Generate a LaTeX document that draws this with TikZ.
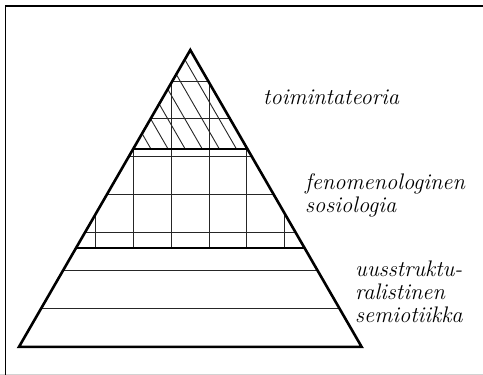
\documentclass[tikz,border=0pt]{standalone}
\usetikzlibrary{calc}

\tikzset{
  thinline/.style={black!85, line width=0.9pt},
  thickline/.style={black, line width=2.6pt},
  lbl/.style={inner sep=0pt, align=left, font=\fontsize{22.5}{23}\selectfont\itshape}
}

\begin{document}
\begin{tikzpicture}[x=1pt,y=-1pt]
            \useasboundingbox (0,0) rectangle (483,375);
            \draw[gray!35, line width=1pt] (0,374.3) -- (483,374.3);
            \draw[black, line width=1.6pt] (5.3,375) -- (5.3,5.8) -- (483,5.8);

            \coordinate (apex) at (190.3,50);
            \coordinate (bl) at (19,346.8);
            \coordinate (br) at (361.6,346.8);
            \coordinate (l1) at ($(apex)!1/3!(bl)$);
            \coordinate (r1) at ($(apex)!1/3!(br)$);
            \coordinate (l2) at ($(apex)!2/3!(bl)$);
            \coordinate (r2) at ($(apex)!2/3!(br)$);

            \begin{scope}
                \clip (apex) -- (bl) -- (br) -- cycle;
                \foreach \y in {81,118.9,...,309}
                    \draw[thinline] (0,\y) -- (483,\y);
                \foreach \x in {95.7,133.5,...,285}
                    \draw[thinline] (\x,0) -- (\x,248);
                \clip (0,0) rectangle (483,148.9);
                \foreach \d in {11,28.1,...,97}
                    \draw[thinline] ({253.2-\d},158.9) -- ++(-69.3,-120);
            \end{scope}

            \draw[thickline] (l1) -- (r1);
            \draw[thickline] (l2) -- (r2);
            \draw[thickline, line join=miter] (apex) -- (bl) -- (br) -- cycle;

            \node[lbl, anchor=base west] (toiminta) at (263,104) {toimintateoria};
            \node[lbl, anchor=base west] (fenomen) at (305,212) {fenomenologinen\\sosiologia};
            \node[lbl, anchor=base west] (semio) at (355,322) {uusstruktu-\\ralistinen\\semiotiikka};
        \end{tikzpicture}
\end{document}
